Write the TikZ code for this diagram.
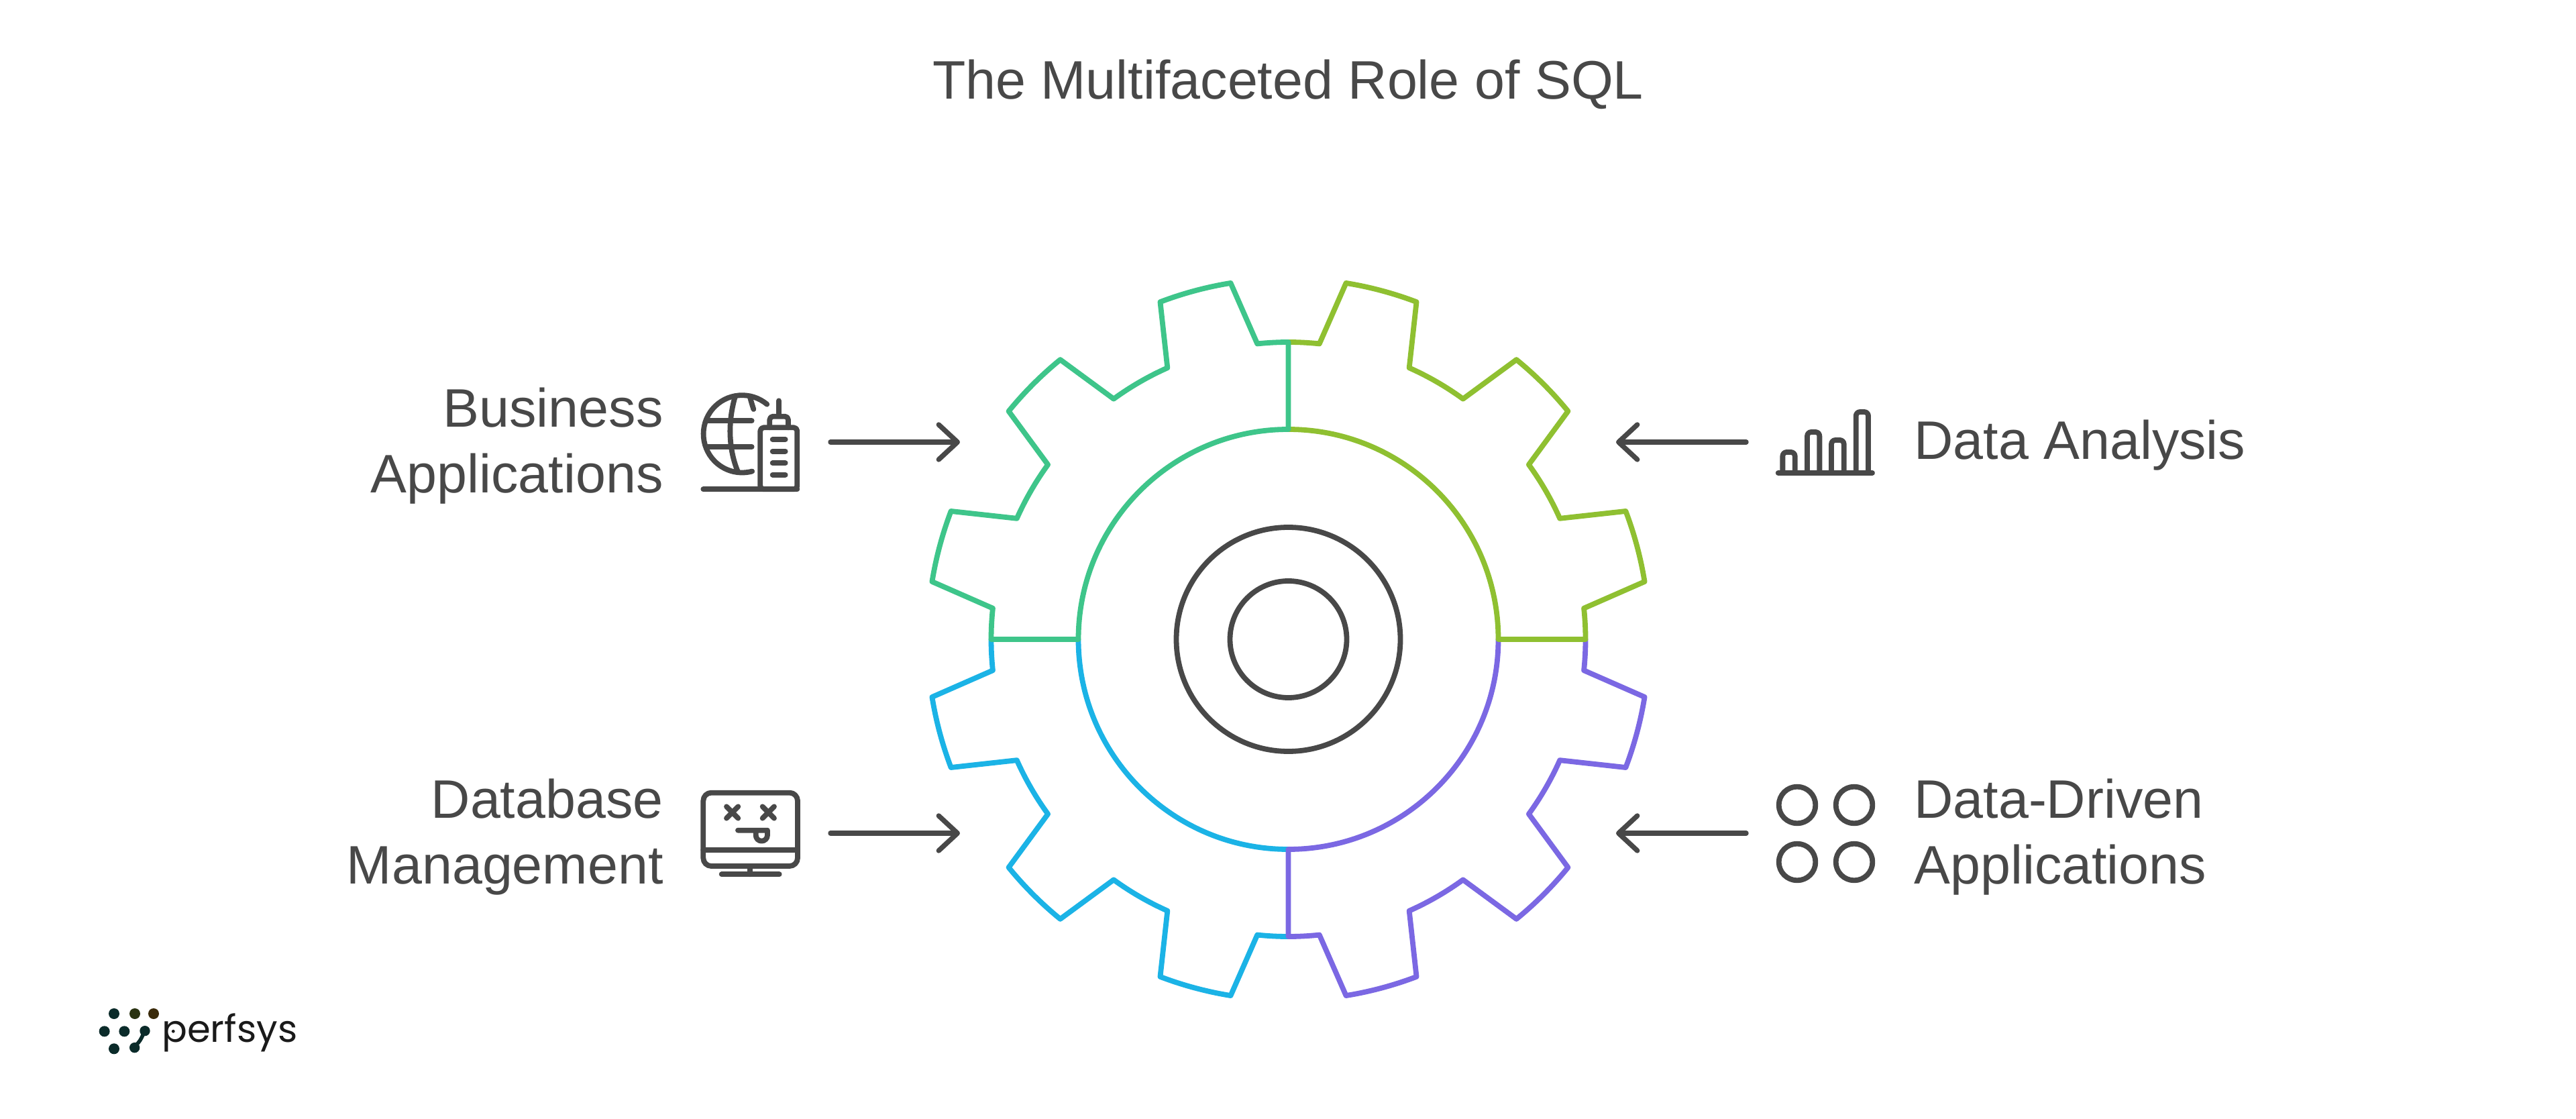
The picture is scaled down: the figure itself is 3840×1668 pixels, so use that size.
\documentclass[tikz,border=0pt]{standalone}
\usepackage{fontspec}
\setmainfont{Liberation Sans}
\newfontfamily\logofont{Poppins}
\usetikzlibrary{arrows.meta}
\definecolor{inkgray}{HTML}{484848}
\definecolor{sectorgreen}{HTML}{3EC58A}
\definecolor{sectorlime}{HTML}{8FC031}
\definecolor{sectorblue}{HTML}{1BB3E6}
\definecolor{sectorpurple}{HTML}{7B68E3}
\definecolor{logoteal}{HTML}{0B2B2A}
\definecolor{logoolive}{HTML}{2A3312}
\definecolor{logobrown}{HTML}{3A2A0A}
\definecolor{logotextc}{HTML}{1A1A1A}
\tikzset{
  gearline/.style={line width=3.9pt,line join=round,line cap=round},
  hubline/.style={line width=3.9pt,draw=inkgray},
  iconline/.style={line width=3.9pt,draw=inkgray,line cap=round,line join=round},
  pointer/.style={line width=3.7pt,draw=inkgray,line cap=round,
    -{Straight Barb[length=14pt,width=26pt,line cap=round,line join=round]}},
  label/.style={text=inkgray,font=\fontsize{40.4}{49}\selectfont,inner sep=0pt},
  icon/.style={yscale=-1,scale=1/3}
}
% Toothed rim of one quadrant, from 0 to 90 degrees
\newcommand{\rimquadrant}{(0:443) arc (0:6:443) -- (9.2:538) arc (9.2:20.8:538)
  -- (24:443) arc (24:36:443) -- (39.2:538) arc (39.2:50.8:538)
  -- (54:443) arc (54:66:443) -- (69.2:538) arc (69.2:80.8:538)
  -- (84:443) arc (84:90:443)}
\newcommand{\ringquadrant}{(0:313) arc (0:90:313)}
\begin{document}
\begin{tikzpicture}[x=0.5pt,y=0.5pt]
\useasboundingbox (0,0) rectangle (3840,-1668);
\fill[white] (0,0) rectangle (3840,-1668);

\node[label,anchor=center] (title) at (1920,-126) {The Multifaceted Role of SQL};

% Gear, one colour per quadrant
\begin{scope}[shift={(1920.5,-953)}]
  \draw[gearline,sectorblue,rotate=180] \rimquadrant \ringquadrant;
  \draw[gearline,sectorpurple,rotate=270] \rimquadrant \ringquadrant (0:313) -- (0:443);
  \draw[gearline,sectorlime] \rimquadrant \ringquadrant (0:313) -- (0:443);
  \draw[gearline,sectorgreen,rotate=90] \rimquadrant \ringquadrant (0:313) -- (0:443) (90:313) -- (90:443);
  \draw[hubline] (0,0) circle (167);
  \draw[hubline] (0,0) circle (87);
\end{scope}

% Labels
\node[label,anchor=east,align=right] (business) at (989,-665) {Business\\Applications};
\node[label,anchor=east,align=right] (database) at (989,-1248) {Database\\Management};
\node[label,anchor=west,align=left] (analysis) at (2853,-664) {Data Analysis};
\node[label,anchor=west,align=left] (driven) at (2853,-1248) {Data-Driven\\Applications};

% Arrows pointing at the gear
\coordinate (bfrom) at (1238,-659); \coordinate (bto) at (1431,-659);
\coordinate (dfrom) at (1238,-1242); \coordinate (dto) at (1431,-1242);
\coordinate (afrom) at (2603,-659); \coordinate (ato) at (2409,-659);
\coordinate (ffrom) at (2603,-1242); \coordinate (fto) at (2409,-1242);
\draw[pointer] (bfrom) -- (bto);
\draw[pointer] (dfrom) -- (dto);
\draw[pointer] (afrom) -- (ato);
\draw[pointer] (ffrom) -- (fto);

% Globe and tower
\begin{scope}[shift={(1020,-560)},icon]
  \draw[iconline] (370,128) arc (-50:-285:173);
  \draw[iconline] (228,92) .. controls (196,200) and (196,320) .. (238,425);
  \draw[iconline] (295,100) .. controls (300,118) and (305,135) .. (310,150);
  \draw[iconline] (105,202) -- (302,202);
  \draw[iconline] (105,318) -- (302,318);
  \draw[iconline] (85,508) -- (505,508);
  \draw[iconline,rounded corners=2.5pt] (340,508) -- (340,232) -- (505,232) -- (505,508) -- cycle;
  \draw[iconline,rounded corners=2.5pt] (382,232) -- (382,182) -- (465,182) -- (465,232);
  \draw[iconline] (423,112) -- (423,180);
  \foreach \yy in {285,338,391,443} \draw[iconline] (395,\yy) -- (452,\yy);
\end{scope}

% Monitor with a tired face
\begin{scope}[shift={(1020,-1160)},icon]
  \draw[iconline,rounded corners=6pt] (85,65) rectangle (507,393);
  \draw[iconline] (85,320) -- (507,320);
  \draw[iconline] (295,393) -- (295,430);
  \draw[iconline] (167,430) -- (425,430);
  \foreach \xx in {215,376} {
    \draw[iconline] (\xx-26,127) -- (\xx+26,179);
    \draw[iconline] (\xx-26,179) -- (\xx+26,127);
  }
  \draw[iconline] (240,233) -- (372,233) -- (372,255) arc (0:180:26) -- (320,233);
\end{scope}

% Bar chart
\begin{scope}[shift={(2630,-590)},icon]
  \draw[iconline] (62,345) -- (483,345);
  \draw[iconline,rounded corners=3pt] (82,345) -- (82,252) -- (137,252) -- (137,345);
  \draw[iconline,rounded corners=3pt] (192,345) -- (192,162) -- (247,162) -- (247,345);
  \draw[iconline,rounded corners=3pt] (300,345) -- (300,198) -- (356,198) -- (356,345);
  \draw[iconline,rounded corners=3pt] (410,345) -- (410,72) -- (465,72) -- (465,345);
\end{scope}

% Four rings
\begin{scope}[shift={(2630,-1150)},icon]
  \foreach \xx in {147,402} \foreach \yy in {150,405}
    \draw[iconline] (\xx,\yy) circle (82);
\end{scope}

% Logo
\begin{scope}[shift={(130,-1480)},icon]
  \fill[logoteal] (120,93) circle (24);
  \fill[logoolive] (213,93) circle (24);
  \fill[logobrown] (297,93) circle (24);
  \fill[logoteal] (77,172) circle (24);
  \fill[logoteal] (166,172) circle (24);
  \fill[logoteal] (120,250) circle (24);
  \fill[logoteal] (258,170) circle (23);
  \fill[logoteal] (212,245) circle (23);
  \draw[logoteal,line width=2.8pt] (250,185) .. controls (240,210) and (232,220) .. (220,232);
\end{scope}
\node[anchor=base west,inner sep=0pt,text=logotextc,font=\logofont\fontsize{28}{28}\selectfont] (logotext) at (241,-1553) {perfsys};
\fill[logotextc] (258.3,-1537.3) circle (2.4);
\end{tikzpicture}
\end{document}
